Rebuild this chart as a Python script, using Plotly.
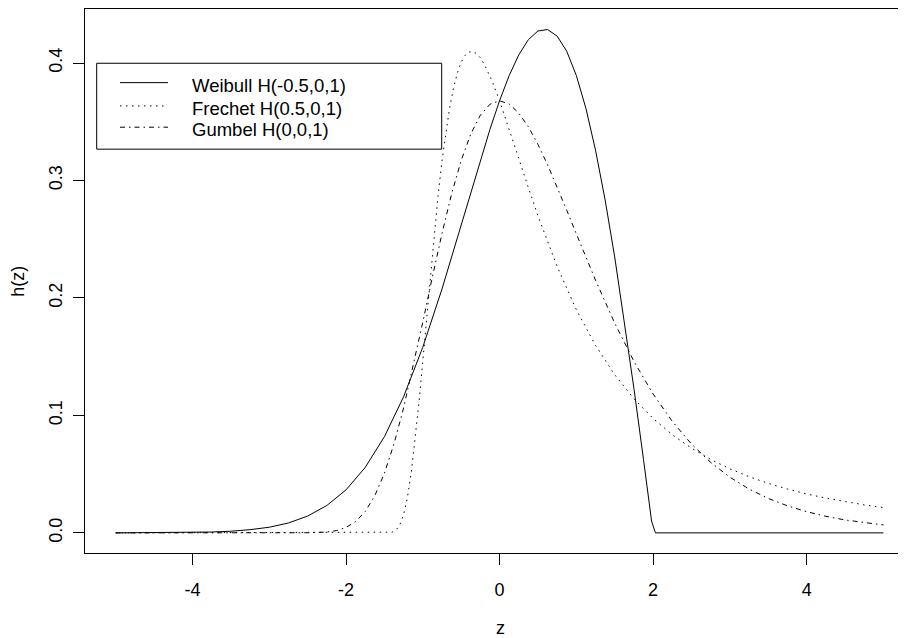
import plotly.graph_objects as go

# ---- data ----
z_weibull = [-5, -4.5, -4, -3.75, -3.5, -3.25, -3, -2.75, -2.5, -2.25, -2, -1.75, -1.5, -1.25,
             -1, -0.75, -0.5, -0.375, -0.25, -0.125, 0, 0.125, 0.25, 0.375, 0.5, 0.625, 0.75,
             0.875, 1, 1.125, 1.25, 1.375, 1.5, 1.625, 1.75, 1.875, 1.95, 1.98, 2.03, 2.5, 3, 4, 5]
h_weibull = [0.0000, 0.0001, 0.0004, 0.0007, 0.0014, 0.0027, 0.0048, 0.0084, 0.0143, 0.0233,
             0.0366, 0.0557, 0.0819, 0.1159, 0.1581, 0.2076, 0.2620, 0.2899, 0.3174, 0.3436,
             0.3679, 0.3893, 0.4069, 0.4199, 0.4273, 0.4285, 0.4229, 0.4100, 0.3894, 0.3613,
             0.3258, 0.2834, 0.2348, 0.1810, 0.1231, 0.0623, 0.0250, 0.0100, 0.0, 0.0, 0.0, 0.0, 0.0]

z_frechet = [-5, -4, -3, -2.5, -2, -1.75, -1.6, -1.5, -1.45, -1.4, -1.35, -1.3, -1.25, -1.2,
             -1.15, -1.1, -1.05, -1, -0.95, -0.9, -0.85, -0.8, -0.75, -0.7, -0.65, -0.6, -0.55,
             -0.5, -0.45, -0.4, -0.35, -0.3, -0.25, -0.2, -0.1, 0, 0.1, 0.25, 0.375, 0.5, 0.75,
             1, 1.25, 1.5, 1.75, 2, 2.25, 2.5, 2.75, 3, 3.25, 3.5, 3.75, 4, 4.25, 4.5, 4.75, 5]
h_frechet = [0.0, 0.0, 0.0, 0.0, 0.0, 0.0, 0.0, 0.0000, 0.0001, 0.0006, 0.0023, 0.0067, 0.0155,
             0.0302, 0.0514, 0.0787, 0.1110, 0.1465, 0.1836, 0.2204, 0.2555, 0.2878, 0.3166,
             0.3415, 0.3622, 0.3787, 0.3915, 0.4006, 0.4065, 0.4093, 0.4098, 0.4081, 0.4044,
             0.3990, 0.3851, 0.3679, 0.3487, 0.3187, 0.2939, 0.2700, 0.2267, 0.1900, 0.1596,
             0.1346, 0.1142, 0.0974, 0.0835, 0.0721, 0.0625, 0.0545, 0.0478, 0.0421, 0.0373,
             0.0331, 0.0296, 0.0265, 0.0238, 0.0215]

z_gumbel = [-5, -4, -3, -2.75, -2.5, -2.25, -2.125, -2, -1.875, -1.75, -1.625, -1.5, -1.375,
            -1.25, -1.125, -1, -0.875, -0.75, -0.625, -0.5, -0.375, -0.25, -0.125, 0, 0.125,
            0.25, 0.375, 0.5, 0.625, 0.75, 0.875, 1, 1.25, 1.5, 1.75, 2, 2.25, 2.5, 2.75, 3,
            3.25, 3.5, 3.75, 4, 4.25, 4.5, 4.75, 5]
h_gumbel = [0.0, 0.0, 0.0, 0.0000, 0.0001, 0.0007, 0.0019, 0.0046, 0.0096, 0.0182, 0.0316,
            0.0507, 0.0758, 0.1064, 0.1416, 0.1794, 0.2179, 0.2549, 0.2885, 0.3170, 0.3396,
            0.3556, 0.3649, 0.3679, 0.3651, 0.3574, 0.3457, 0.3307, 0.3134, 0.2945, 0.2747,
            0.2546, 0.2151, 0.1785, 0.1460, 0.1182, 0.0949, 0.0756, 0.0600, 0.0474, 0.0373,
            0.0293, 0.0230, 0.0180, 0.0141, 0.0110, 0.0086, 0.0067]

series_names = ["Weibull H(-0.5,0,1)", "Frechet H(0.5,0,1)", "Gumbel H(0,0,1)"]
x_ticks = [-4, -2, 0, 2, 4]
y_ticks = [0.0, 0.1, 0.2, 0.3, 0.4]
x_label = "z"
y_label = "h(z)"

FONT = "Liberation Sans, Arial, Helvetica, sans-serif"
dashes = ["solid", "1.5px,4.5px", "5px,4px,1.5px,4px"]

fig = go.Figure()
for (zz, hh), name, dash in zip([(z_weibull, h_weibull), (z_frechet, h_frechet), (z_gumbel, h_gumbel)],
                                series_names, dashes):
    fig.add_trace(go.Scatter(x=zz, y=hh, mode="lines", name=name,
                             line=dict(color="black", width=1, dash=dash), showlegend=False))

# The page body has an 8px margin, so the figure is 8px smaller than the window
OFF = 8
W, H = 906 - OFF, 638 - OFF
# plot-area geometry in window pixels (reference coordinates)
L, R, T, B = 85, 906, 9, 553.5
def px(xp):
    return (xp - L) / (R - L)
def py(yp):
    return (B - yp) / (B - T)

shapes = [dict(type="rect", xref="paper", yref="paper", x0=px(96.7), x1=px(441.7),
               y0=py(149.3), y1=py(63.3), line=dict(color="black", width=1), fillcolor="white",
               layer="above")]
annotations = []
rows = [82.7, 106.0, 127.3]
for name, dash, ry in zip(series_names, dashes, rows):
    shapes.append(dict(type="line", xref="paper", yref="paper", x0=px(120), x1=px(168),
                       y0=py(ry), y1=py(ry), line=dict(color="black", width=1, dash=dash),
                       layer="above"))
    annotations.append(dict(text=name, xref="paper", yref="paper", x=px(190), y=py(ry + 2.5),
                            xanchor="left", yanchor="middle", showarrow=False,
                            font=dict(family=FONT, size=18.5, color="black")))

annotations.append(dict(text=x_label, xref="paper", yref="paper", x=px(500), y=py(629),
                        xanchor="center", yanchor="middle", showarrow=False,
                        font=dict(family=FONT, size=18, color="black")))
annotations.append(dict(text=y_label, xref="paper", yref="paper", x=px(18), y=py(282),
                        xanchor="center", yanchor="middle", showarrow=False, textangle=-90,
                        font=dict(family=FONT, size=18, color="black")))

fig.update_layout(
    width=W, height=H,
    margin=dict(l=L - OFF, r=0, t=T - OFF, b=H - (B - OFF), pad=0, autoexpand=False),
    paper_bgcolor="white", plot_bgcolor="white",
    font=dict(family=FONT, size=18, color="black"),
    shapes=shapes, annotations=annotations, showlegend=False,
)
fig.update_xaxes(range=[-5.4, 5.294], tickvals=x_ticks, ticktext=[str(v) for v in x_ticks],
                 ticks="outside", ticklen=11, tickwidth=1, tickcolor="black",
                 showline=True, linecolor="black", linewidth=1, mirror=True,
                 showgrid=False, zeroline=False, tickfont=dict(size=18),
                 ticklabelstandoff=9, automargin=False)
fig.update_yaxes(range=[-0.01715, 0.4460], tickvals=y_ticks, ticktext=[f"{v:.1f}" for v in y_ticks],
                 ticks="outside", ticklen=11, tickwidth=1, tickcolor="black", tickangle=-90,
                 showline=True, linecolor="black", linewidth=1, mirror=False,
                 showgrid=False, zeroline=False, tickfont=dict(size=18),
                 ticklabelstandoff=4, automargin=False)

fig.write_html("out.html")
